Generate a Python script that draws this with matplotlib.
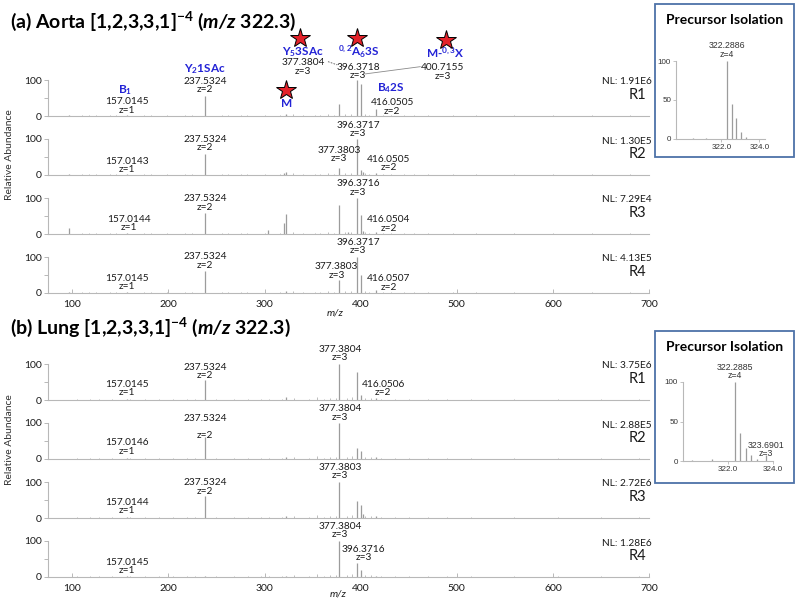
import matplotlib
matplotlib.use("Agg")
import matplotlib.pyplot as plt
from matplotlib.patches import Rectangle

plt.rcParams['font.family'] = ['Lato', 'DejaVu Sans']
plt.rcParams['mathtext.fontset'] = 'custom'
plt.rcParams['mathtext.rm'] = 'Lato'
plt.rcParams['mathtext.it'] = 'Lato:italic'
plt.rcParams['mathtext.bf'] = 'Lato:bold'
plt.rcParams['mathtext.bfit'] = 'Lato:italic:bold'

# ---- data: main peaks (m/z, relative abundance %) ----
aorta_r1_mz = [96.96, 157.01, 237.53, 322.29, 322.54, 377.38, 396.37, 400.72, 416.05]
aorta_r1_int = [2, 3, 55, 5, 3, 32, 100, 90, 20]
aorta_r2_mz = [96.96, 157.01, 237.53, 320.0, 322.29, 377.38, 396.37, 400.72, 402.0, 416.05]
aorta_r2_int = [2, 2, 57, 5, 9, 20, 100, 15, 8, 6]
aorta_r3_mz = [96.96, 157.01, 237.53, 304.0, 320.0, 322.29, 377.38, 387.0, 396.37, 400.72, 402.0, 416.05]
aorta_r3_int = [18, 3, 57, 10, 31, 55, 80, 6, 100, 52, 8, 6]
aorta_r4_mz = [96.96, 157.01, 237.53, 322.29, 377.38, 396.37, 400.72, 416.05]
aorta_r4_int = [2, 3, 62, 5, 35, 100, 50, 9]

lung_r1_mz = [157.01, 237.53, 322.29, 377.38, 396.37, 400.72, 416.05]
lung_r1_int = [3, 55, 8, 100, 78, 15, 5]
lung_r2_mz = [157.01, 237.53, 322.29, 377.38, 396.37, 400.72, 416.05]
lung_r2_int = [2, 60, 5, 100, 30, 22, 5]
lung_r3_mz = [157.01, 237.53, 322.29, 377.38, 396.37, 400.72, 402.0, 416.05]
lung_r3_int = [2, 60, 5, 100, 46, 35, 10, 5]
lung_r4_mz = [157.01, 237.53, 322.29, 377.38, 396.37, 400.72, 416.05]
lung_r4_int = [2, 3, 4, 100, 40, 20, 4]

# small background peaks
aorta_minor_mz = [110, 117, 125, 139, 145, 175, 182, 199, 217, 225, 256, 262, 275, 282,
                  300, 316, 330, 340, 352, 358, 366, 372, 384, 390, 404, 409, 423, 432,
                  445, 456, 470, 496, 520, 560, 600, 641, 680]
aorta_minor_int = [3, 2, 4, 3, 2, 3, 2, 4, 3, 2, 3, 2, 4, 3,
                   4, 3, 5, 3, 4, 3, 5, 4, 5, 6, 5, 4, 3, 3,
                   2, 3, 2, 2, 2, 2, 2, 2, 2]
lung_minor_mz = [105, 118, 128, 141, 160, 176, 190, 205, 219, 228, 250, 268, 283, 296,
                 305, 318, 331, 346, 355, 362, 368, 374, 386, 391, 405, 411, 421, 436,
                 450, 470, 490, 515, 560, 605, 650, 690]
lung_minor_int = [2, 3, 2, 3, 3, 2, 3, 2, 3, 2, 3, 4, 3, 3,
                  4, 3, 5, 4, 8, 4, 5, 6, 6, 7, 6, 5, 4, 3,
                  3, 2, 2, 2, 2, 2, 2, 2]

# precursor isolation insets
iso_a_mz = [320.5, 321.2, 322.29, 322.54, 322.79, 323.04, 323.29]
iso_a_int = [1, 1, 100, 45, 27, 9, 3]
iso_b_mz = [320.4, 321.3, 322.29, 322.54, 322.79, 323.04, 323.29, 323.69]
iso_b_int = [1, 2, 100, 36, 16, 8, 3, 7]

nl_a = ['NL: 1.91E6', 'NL: 1.30E5', 'NL: 7.29E4', 'NL: 4.13E5']
nl_b = ['NL: 3.75E6', 'NL: 2.88E5', 'NL: 2.72E6', 'NL: 1.28E6']
reps = ['R1', 'R2', 'R3', 'R4']

# ---- layout helpers (pixels) ----
W, H = 800, 605
fig = plt.figure(figsize=(8, 6.05), dpi=100)


def fx(px):
    return px / W


def fy(py):
    return 1 - py / H


def px_axes(left, top, right, bottom):
    return fig.add_axes([fx(left), fy(bottom), (right - left) / W, (bottom - top) / H])


LINE = '#9c9c9c'
AXC = '#b8b8b8'
BLUE = '#2323d6'
TXT = '#1a1a1a'
X0, X1 = 48.3, 649.0
PANEL_H = 36


def spectrum_axes(base, last, mz, inten, minor_mz, minor_int):
    ax = px_axes(X0, base - PANEL_H, X1, base)
    ax.vlines(minor_mz, 0, minor_int, color='#bdbdbd', lw=0.7)
    ax.vlines(mz, 0, inten, color=LINE, lw=0.9)
    ax.set_xlim(75, 700)
    ax.set_ylim(0, 100)
    for s in ['top', 'right']:
        ax.spines[s].set_visible(False)
    for s in ['left', 'bottom']:
        ax.spines[s].set_color(AXC)
        ax.spines[s].set_linewidth(0.8)
    ax.set_yticks([0, 50, 100])
    ax.set_yticklabels(['0', '', '100'])
    ax.tick_params(axis='y', length=3, width=0.7, color=AXC, pad=1.5,
                   labelsize=7.5, labelcolor=TXT)
    ax.set_xticks(range(100, 701, 100))
    if last:
        ax.tick_params(axis='x', direction='in', length=3, width=0.7, color=AXC,
                       pad=5, labelsize=7.5, labelcolor=TXT)
    else:
        ax.tick_params(axis='x', length=0, labelbottom=False)
    ax.patch.set_alpha(0)
    return ax


def peak_label(ax, text, x, y):
    ax.text(x, y, text, ha='center', va='center', fontsize=7.3, color=TXT,
            linespacing=0.9, clip_on=False)


def blue_label(ax, text, x, y):
    ax.text(x, y, text, ha='center', va='center', fontsize=8.5, color=BLUE,
            fontweight='bold', clip_on=False)


def star(ax, x, y):
    ax.plot([x], [y], marker='*', ms=15, mfc='#e3222a', mec='black', mew=0.7,
            clip_on=False, zorder=5)


# ---- (a) aorta ----
fig.text(fx(10), fy(21), r"(a) Aorta [1,2,3,3,1]$^{\mathbf{-4}}$ ($\mathbfit{m/z}$ 322.3)",
         fontsize=14, fontweight='bold', va='center', ha='left', color='black')

base_a = [116, 175, 234, 293]
data_a = [(aorta_r1_mz, aorta_r1_int), (aorta_r2_mz, aorta_r2_int),
          (aorta_r3_mz, aorta_r3_int), (aorta_r4_mz, aorta_r4_int)]
axes_a = []
for i, (mz, inten) in enumerate(data_a):
    ax = spectrum_axes(base_a[i], i == 3, mz, inten, aorta_minor_mz, aorta_minor_int)
    axes_a.append(ax)
    fig.text(fx(652), fy(base_a[i] - PANEL_H + 2), nl_a[i], ha='right', va='center',
             fontsize=7.3, color=TXT)
    fig.text(fx(646), fy(base_a[i] - PANEL_H + 15), reps[i], ha='right', va='center',
             fontsize=10.5, color=TXT)

a1, a2, a3, a4 = axes_a
peak_label(a1, '157.0145\nz=1', 157.2, 28)
blue_label(a1, r'B$_\mathbf{1}$', 155, 72)
peak_label(a1, '237.5324\nz=2', 238, 85)
blue_label(a1, r'Y$_\mathbf{2}$1SAc', 238, 130)
peak_label(a1, '377.3804\nz=3', 340, 136)
blue_label(a1, r'Y$_\mathbf{5}$3SAc', 340, 178)
star(a1, 337, 217)
star(a1, 322.5, 72)
blue_label(a1, 'M', 322.5, 36)
peak_label(a1, '396.3718\nz=3', 397.4, 124)
blue_label(a1, r'$^\mathbf{0,2}$A$_\mathbf{6}$3S', 397.4, 178)
star(a1, 396.4, 217)
peak_label(a1, '400.7155\nz=3', 485.3, 122)
blue_label(a1, r'M-$^\mathbf{0,3}$X', 487.8, 175)
star(a1, 488.9, 211)
blue_label(a1, r'B$_\mathbf{4}$2S', 431.7, 78)
peak_label(a1, '416.0505\nz=2', 433, 25)
a1.plot([405, 462], [117, 137], color='#8a8a8a', lw=0.6, clip_on=False)
a1.plot([366, 375.6], [151, 142], color='#555555', lw=0.6, ls=(0, (2, 1.5)), clip_on=False)

peak_label(a2, '396.3717\nz=3', 397.4, 126)
peak_label(a2, '237.5324\nz=2', 238, 87)
peak_label(a2, '157.0143\nz=1', 157.2, 26)
peak_label(a2, '377.3803\nz=3', 377.6, 57)
peak_label(a2, '416.0505\nz=2', 429, 32)

peak_label(a3, '396.3716\nz=3', 397.4, 128)
peak_label(a3, '237.5324\nz=2', 238, 86)
peak_label(a3, '157.0144\nz=1', 158.7, 29)
peak_label(a3, '416.0504\nz=2', 429, 28)

peak_label(a4, '396.3717\nz=3', 397.4, 130)
peak_label(a4, '237.5324\nz=2', 238, 89)
peak_label(a4, '377.3803\nz=3', 375, 61)
peak_label(a4, '157.0145\nz=1', 157.2, 29)
peak_label(a4, '416.0507\nz=2', 429, 28)

fig.text(fx(10), fy(155), 'Relative Abundance', rotation=90, ha='center', va='center',
         fontsize=7.5, color='#333333')
fig.text(fx(335), fy(313), 'm/z', style='italic', ha='center', va='center',
         fontsize=7.5, color=TXT)

# ---- (b) lung ----
fig.text(fx(10), fy(327), r"(b) Lung [1,2,3,3,1]$^{\mathbf{-4}}$ ($\mathbfit{m/z}$ 322.3)",
         fontsize=14, fontweight='bold', va='center', ha='left', color='black')

base_b = [400, 459, 518, 577]
data_b = [(lung_r1_mz, lung_r1_int), (lung_r2_mz, lung_r2_int),
          (lung_r3_mz, lung_r3_int), (lung_r4_mz, lung_r4_int)]
axes_b = []
for i, (mz, inten) in enumerate(data_b):
    ax = spectrum_axes(base_b[i], i == 3, mz, inten, lung_minor_mz, lung_minor_int)
    axes_b.append(ax)
    fig.text(fx(652), fy(base_b[i] - PANEL_H + 2), nl_b[i], ha='right', va='center',
             fontsize=7.3, color=TXT)
    fig.text(fx(646), fy(base_b[i] - PANEL_H + 15), reps[i], ha='right', va='center',
             fontsize=10.5, color=TXT)

b1, b2, b3, b4 = axes_b
peak_label(b1, '377.3804\nz=3', 378.7, 129)
peak_label(b1, '237.5324\nz=2', 238, 79)
peak_label(b1, '157.0145\nz=1', 157.2, 32)
peak_label(b1, '416.0506\nz=2', 423.4, 32)

peak_label(b2, '377.3804\nz=3', 378.7, 128)
peak_label(b2, '237.5324\n\nz=2', 238, 89)
peak_label(b2, '157.0146\nz=1', 157.2, 33)

peak_label(b3, '377.3803\nz=3', 378.7, 129)
peak_label(b3, '237.5324\nz=2', 238, 86)
peak_label(b3, '157.0144\nz=1', 157.2, 31)

peak_label(b4, '377.3804\nz=3', 378.7, 129)
peak_label(b4, '396.3716\nz=3', 403, 65)
peak_label(b4, '157.0145\nz=1', 157.2, 29)

fig.text(fx(10), fy(440), 'Relative Abundance', rotation=90, ha='center', va='center',
         fontsize=7.5, color='#333333')
fig.text(fx(338), fy(594), 'm/z', style='italic', ha='center', va='center',
         fontsize=7.5, color=TXT)


# ---- precursor isolation insets ----
def inset(box, ax_box, xlim, mz, inten, labels):
    left, top, right, bottom = box
    fig.patches.append(Rectangle((fx(left), fy(bottom)), (right - left) / W,
                                 (bottom - top) / H, transform=fig.transFigure,
                                 fill=False, edgecolor='#4d72a8', lw=1.3))
    fig.text(fx((left + right) / 2), fy(top + 16), 'Precursor Isolation',
             ha='center', va='center', fontsize=10, fontweight='bold', color='black')
    ax = px_axes(*ax_box)
    ax.vlines(mz, 0, inten, color=LINE, lw=0.9)
    ax.set_xlim(*xlim)
    ax.set_ylim(0, 100)
    for s in ['top', 'right']:
        ax.spines[s].set_visible(False)
    for s in ['left', 'bottom']:
        ax.spines[s].set_color(AXC)
        ax.spines[s].set_linewidth(0.8)
    ax.set_xticks([322.0, 324.0])
    ax.set_xticklabels(['322.0', '324.0'], family=['Liberation Sans', 'DejaVu Sans'])
    ax.set_yticks([0, 50, 100])
    ax.set_yticklabels(['0', '50', '100'], family=['Liberation Sans', 'DejaVu Sans'])
    ax.tick_params(length=2, width=0.6, color=AXC, pad=1.5, labelsize=5.8,
                   labelcolor='#333333')
    ax.patch.set_alpha(0)
    for text, x, y in labels:
        ax.text(x, y, text, ha='center', va='center', fontsize=6.3, color='#333333',
                family=['Liberation Sans', 'DejaVu Sans'], linespacing=0.9, clip_on=False)
    return ax


inset((655, 4, 794, 157), (676, 61, 765, 139), (319.6, 324.3), iso_a_mz, iso_a_int,
      [('322.2886\nz=4', 322.29, 114)])
inset((655, 331, 794, 483), (683, 382, 773, 461), (320.0, 324.0), iso_b_mz, iso_b_int,
      [('322.2885\nz=4', 322.29, 113), ('323.6901\nz=3', 323.69, 15)])

fig.savefig('out.png', dpi=100)
